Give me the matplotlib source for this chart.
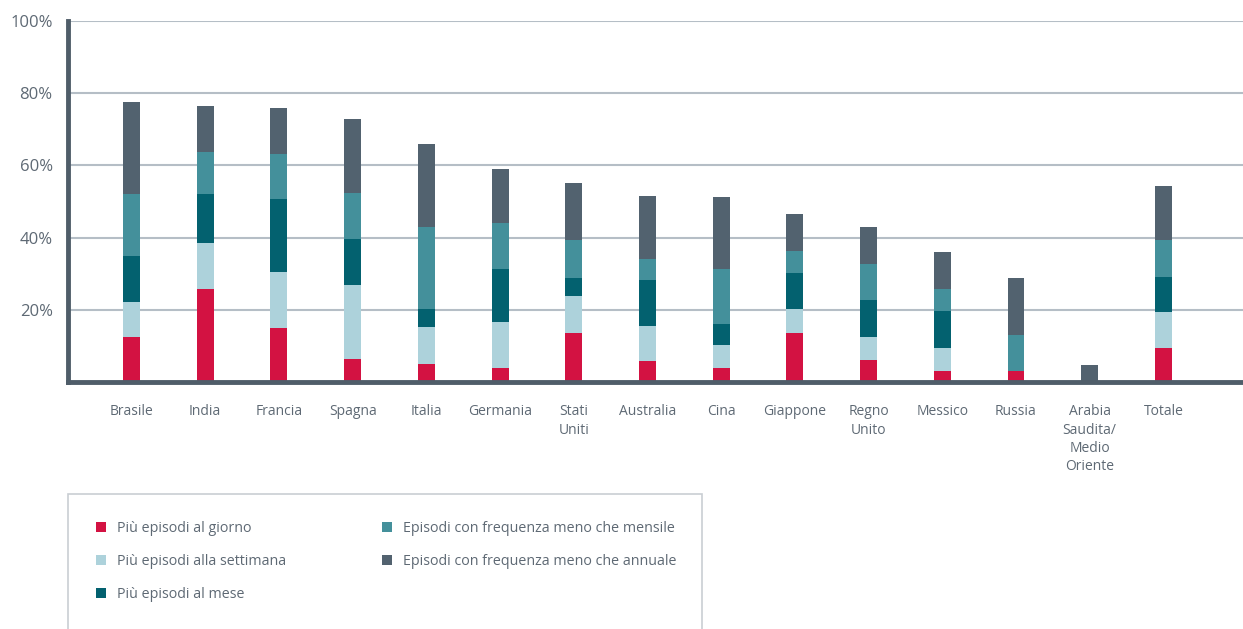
import matplotlib
matplotlib.use("Agg")
import matplotlib.pyplot as plt
from matplotlib.patches import Rectangle
import numpy as np

# Paesi / categorie sull'asse x
paesi = ["Brasile", "India", "Francia", "Spagna", "Italia", "Germania",
         "Stati\nUniti", "Australia", "Cina", "Giappone", "Regno\nUnito",
         "Messico", "Russia", "Arabia\nSaudita/\nMedio\nOriente", "Totale"]

# Quote percentuali per frequenza (segmenti impilati dal basso)
giorno = [12.4, 25.7, 14.9, 6.3, 4.9, 3.8, 13.5, 5.7, 3.8, 13.5, 6.0, 3.0, 3.0, 0.0, 9.4]
settimana = [9.7, 12.7, 15.5, 20.5, 10.3, 12.8, 10.2, 9.7, 6.4, 6.6, 6.4, 6.4, 0.0, 0.0, 9.9]
mese = [12.7, 13.6, 20.2, 12.7, 5.0, 14.6, 5.0, 12.8, 5.8, 10.0, 10.2, 10.2, 0.0, 0.0, 9.7]
meno_mensile = [17.2, 11.7, 12.5, 12.8, 22.7, 12.8, 10.5, 6.0, 15.2, 6.1, 10.0, 6.1, 9.9, 0.0, 10.2]
meno_annuale = [25.7, 12.7, 12.7, 20.5, 23.0, 14.9, 15.8, 17.2, 20.0, 10.3, 10.3, 10.2, 15.8, 4.6, 15.2]

serie = [
    ("Più episodi al giorno", giorno, "#d31242"),
    ("Più episodi alla settimana", settimana, "#add2db"),
    ("Più episodi al mese", mese, "#03616f"),
    ("Episodi con frequenza meno che mensile", meno_mensile, "#44909b"),
    ("Episodi con frequenza meno che annuale", meno_annuale, "#52626f"),
]

yticks = [20, 40, 60, 80, 100]
ytick_labels = ["20%", "40%", "60%", "80%", "100%"]

plt.rcParams["font.family"] = ["Open Sans", "DejaVu Sans"]
text_color = "#5e6974"
spine_color = "#4f5d69"

W, H = 1243, 629
fig = plt.figure(figsize=(W / 100, H / 100), dpi=100)
ax = fig.add_axes([68 / W, 1 - 382 / H, (W - 68) / W, (382 - 21) / H])

x = np.arange(len(paesi))
bottom = np.zeros(len(paesi))
handles = []
for label, vals, color in serie:
    vals = np.array(vals)
    b = ax.bar(x, vals, width=0.23, bottom=bottom, color=color, label=label,
               zorder=3, linewidth=0)
    handles.append(b)
    bottom += vals

ax.set_xlim(-0.862, 15.08)
ax.set_ylim(0, 100)
ax.set_yticks(yticks)
ax.set_yticklabels(ytick_labels)
ax.set_xticks(x)
ax.set_xticklabels(paesi, linespacing=1.3)

ax.grid(axis="y", color="#b5bec6", linewidth=1.5, zorder=0)
ax.set_axisbelow(True)

for side in ("top", "right"):
    ax.spines[side].set_visible(False)
for side in ("left", "bottom"):
    ax.spines[side].set_color(spine_color)
    ax.spines[side].set_linewidth(3.5)
    ax.spines[side].set_zorder(4)

ax.tick_params(axis="y", length=0, pad=11, labelsize=12, labelcolor=text_color)
ax.tick_params(axis="x", length=0, pad=16, labelsize=10, labelcolor=text_color)
for t in ax.get_xticklabels():
    t.set_verticalalignment("top")

# Riquadro della legenda
fig.patches.append(Rectangle((68 / W, -0.05), (702 - 68) / W, (1 - 494 / H) + 0.05,
                             transform=fig.transFigure, facecolor="white",
                             edgecolor="#c9ced3", linewidth=1.2, zorder=0))

leg = fig.legend(handles=handles, loc="upper left",
                 bbox_to_anchor=(96 / W, 1 - 521 / H), ncol=2, frameon=False,
                 fontsize=10.3, handlelength=0.72, handleheight=0.72,
                 handletextpad=0.75, labelspacing=1.27, columnspacing=6.7,
                 borderpad=0, borderaxespad=0)
for t in leg.get_texts():
    t.set_color(text_color)

fig.savefig("out.png", dpi=100, facecolor="white")
